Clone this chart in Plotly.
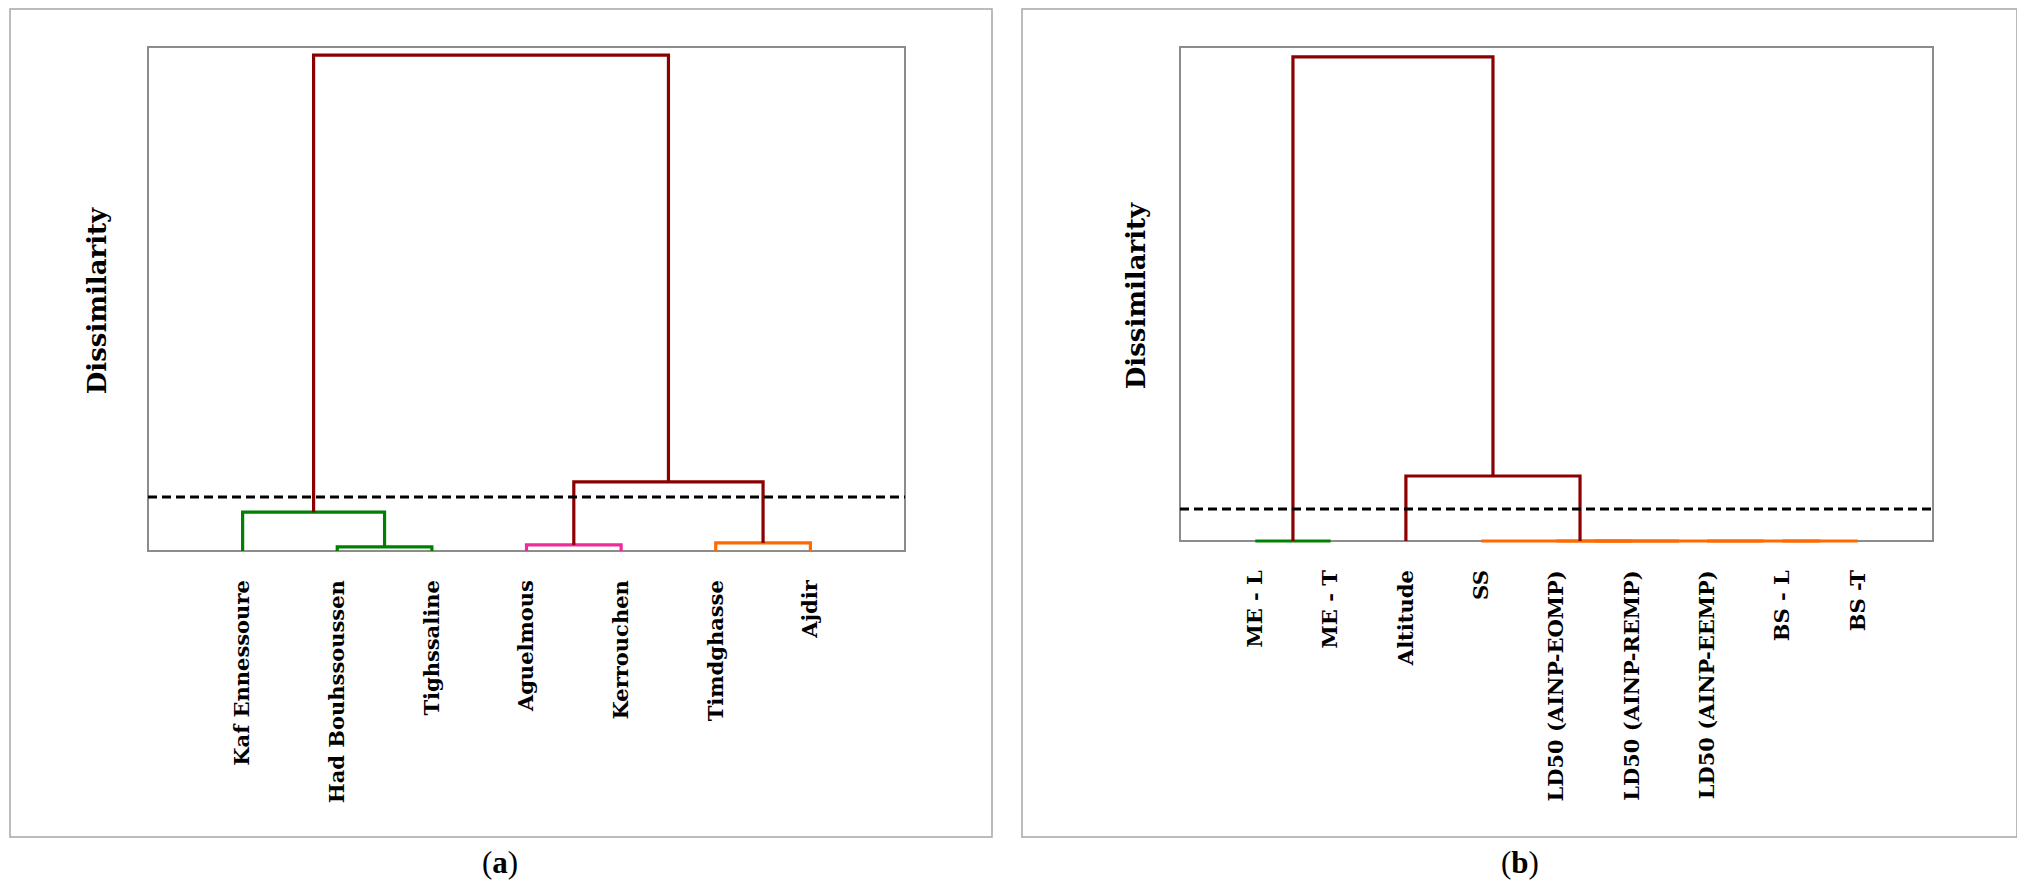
import plotly.graph_objects as go

# ---------------- data ----------------
# Panel (a): sites
leaves_a = ["Kaf Ennessoure", "Had Bouhssoussen", "Tighssaline", "Aguelmous",
            "Kerrouchen", "Timdghasse", "Ajdir"]
# merges: node ids 0..n-1 are leaves, n+k is the k-th merge
merge_left_a = [1, 0, 3, 5, 9, 8]
merge_right_a = [2, 7, 4, 6, 10, 11]
merge_height_a = [0.008, 0.077, 0.012, 0.016, 0.137, 0.984]
merge_cluster_a = ["C1", "C1", "C2", "C3", "top", "top"]
threshold_a = 0.107

# Panel (b): variables
leaves_b = ["ME - L", "ME - T", "Altitude", "SS", "LD50 (AINP-EOMP)",
            "LD50 (AINP-REMP)", "LD50 (AINP-EEMP)", "BS - L", "BS -T"]
merge_left_b = [0, 4, 7, 6, 10, 3, 2, 9]
merge_right_b = [1, 5, 8, 11, 12, 13, 14, 15]
merge_height_b = [0.0, 0.0, 0.0, 0.0, 0.0, 0.0, 0.1316, 0.980]
merge_cluster_b = ["C1", "C3", "C3", "C3", "C3", "C3", "top", "top"]
threshold_b = 0.0648

# ---------------- styles ----------------
cluster_colors = {"C1": "#008000", "C2": "#ee2b9b", "C3": "#ff6a00", "top": "#8b0000"}
OFF = 8  # page body margin
W, H = 2025 - OFF, 883 - OFF
EXT = 4  # extra px below the frame so that zero-height links are not clipped
LBL_FONT = dict(family="DejaVu Serif", size=21, color="black", weight="bold")
TTL_FONT = dict(family="DejaVu Serif", size=26, color="black", weight="bold")


def dendro_traces(leaves, left, right, height, cluster, xa, ya):
    n = len(leaves)
    pos = {i: i + 1 for i in range(n)}
    hgt = {i: 0.0 for i in range(n)}
    segs = {}
    for k, (a, b, h, c) in enumerate(zip(left, right, height, cluster)):
        xs, ys = segs.setdefault(c, ([], []))
        xs += [pos[a], pos[a], pos[b], pos[b], None]
        ys += [hgt[a], h, h, hgt[b], None]
        pos[n + k] = (pos[a] + pos[b]) / 2
        hgt[n + k] = h
    out = []
    order = [c for c in ["C1", "C2", "C3", "top"] if c in segs]
    for c in order:
        xs, ys = segs[c]
        out.append(go.Scatter(x=xs, y=ys, mode="lines", xaxis=xa, yaxis=ya,
                              line=dict(color=cluster_colors[c], width=3.2),
                              hoverinfo="skip", showlegend=False))
    return out


fig = go.Figure()
for t in dendro_traces(leaves_a, merge_left_a, merge_right_a, merge_height_a,
                       merge_cluster_a, "x", "y"):
    fig.add_trace(t)
for t in dendro_traces(leaves_b, merge_left_b, merge_right_b, merge_height_b,
                       merge_cluster_b, "x2", "y2"):
    fig.add_trace(t)

# truncation lines
fig.add_trace(go.Scatter(x=[0, len(leaves_a) + 1], y=[threshold_a, threshold_a],
                         mode="lines", xaxis="x", yaxis="y",
                         line=dict(color="black", width=3, dash="9px,5px"),
                         hoverinfo="skip", showlegend=False))
fig.add_trace(go.Scatter(x=[0, len(leaves_b) + 1], y=[threshold_b, threshold_b],
                         mode="lines", xaxis="x2", yaxis="y2",
                         line=dict(color="black", width=3, dash="9px,5px"),
                         hoverinfo="skip", showlegend=False))


def px_x(p):
    return (p - OFF) / W


def px_y(p):
    return 1 - (p - OFF) / H


axis_common = dict(showgrid=False, zeroline=False, showline=False, ticks="")

# frame boxes (pixel positions of the plot frames)
frame_a = (148, 905, 47, 551)
frame_b = (1180, 1933, 47, 541)

fig.update_layout(
    width=W, height=H, margin=dict(l=0, r=0, t=0, b=0),
    paper_bgcolor="white", plot_bgcolor="rgba(0,0,0,0)",
    xaxis=dict(domain=[px_x(frame_a[0]), px_x(frame_a[1])], range=[0, len(leaves_a) + 1],
               tickmode="array", tickvals=list(range(1, len(leaves_a) + 1)),
               ticktext=leaves_a, tickangle=-90, tickfont=LBL_FONT,
               ticklabelstandoff=20, anchor="y", **axis_common),
    yaxis=dict(domain=[px_y(frame_a[3] + EXT), px_y(frame_a[2])],
               range=[-EXT / (frame_a[3] - frame_a[2]), 1.0],
               showticklabels=False, anchor="x",
               title=dict(text="Dissimilarity", font=TTL_FONT, standoff=32),
               **axis_common),
    xaxis2=dict(domain=[px_x(frame_b[0]), px_x(frame_b[1])], range=[0, len(leaves_b) + 1],
                tickmode="array", tickvals=list(range(1, len(leaves_b) + 1)),
                ticktext=leaves_b, tickangle=-90, tickfont=LBL_FONT,
                ticklabelstandoff=20, anchor="y2", **axis_common),
    yaxis2=dict(domain=[px_y(frame_b[3] + EXT), px_y(frame_b[2])],
                range=[-EXT / (frame_b[3] - frame_b[2]), 1.0],
                showticklabels=False, anchor="x2",
                title=dict(text="Dissimilarity", font=TTL_FONT, standoff=25),
                **axis_common),
)

# plot frames (drawn below the dendrogram lines)
for (x0, x1, y0, y1) in [frame_a, frame_b]:
    fig.add_shape(type="rect", xref="paper", yref="paper", layer="below",
                  x0=px_x(x0), x1=px_x(x1), y0=px_y(y1), y1=px_y(y0),
                  line=dict(color="#8c8c8c", width=2), fillcolor="rgba(0,0,0,0)")

# panel frames
fig.add_shape(type="rect", xref="paper", yref="paper",
              x0=px_x(10), x1=px_x(992), y0=px_y(837), y1=px_y(9),
              line=dict(color="#a6a6a6", width=1.5), fillcolor="rgba(0,0,0,0)")
fig.add_shape(type="rect", xref="paper", yref="paper",
              x0=px_x(1022), x1=px_x(2017), y0=px_y(837), y1=px_y(9),
              line=dict(color="#a6a6a6", width=1.5), fillcolor="rgba(0,0,0,0)")

# captions
for txt, cx in [("(<b>a</b>)", 500), ("(<b>b</b>)", 1520)]:
    fig.add_annotation(x=px_x(cx), y=px_y(862), xref="paper", yref="paper",
                       text=txt, showarrow=False, xanchor="center", yanchor="middle",
                       font=dict(family="Liberation Serif", size=31, color="black"))

fig.write_html("out.html")
